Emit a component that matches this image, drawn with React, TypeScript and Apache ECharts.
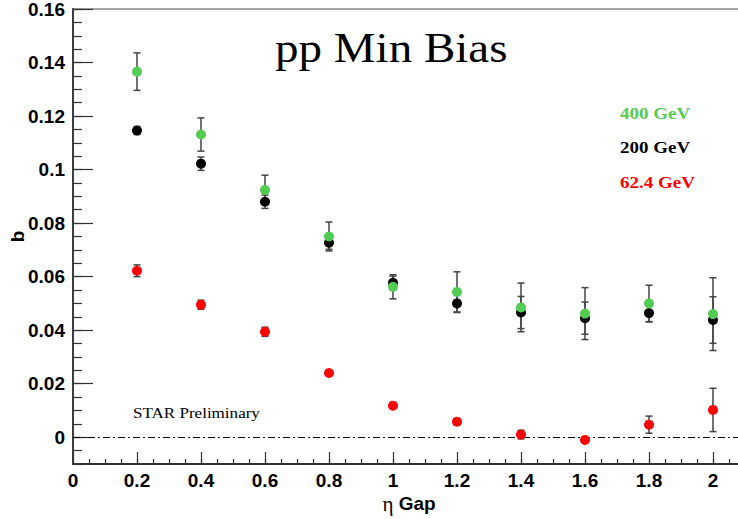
import React, { useEffect, useRef } from "react";
import * as echarts from "echarts";

// eta gap categories (x values)
const etaGap = [0.2, 0.4, 0.6, 0.8, 1.0, 1.2, 1.4, 1.6, 1.8, 2.0];

// 400 GeV (green)
const b400 = [0.1366, 0.1131, 0.0924, 0.075, 0.0562, 0.0543, 0.0485, 0.0462, 0.05, 0.046];
const err400 = [0.007, 0.0062, 0.0055, 0.0054, 0.0045, 0.0075, 0.0091, 0.0097, 0.0068, 0.0136];

// 200 GeV (black)
const b200 = [0.1146, 0.1022, 0.088, 0.0727, 0.0577, 0.05, 0.0466, 0.0445, 0.0464, 0.0438];
const err200 = [0.0015, 0.0025, 0.0025, 0.0025, 0.0025, 0.0034, 0.006, 0.006, 0.0033, 0.0087];

// 62.4 GeV (red)
const b62 = [0.0622, 0.0495, 0.0394, 0.024, 0.0118, 0.0058, 0.001, -0.001, 0.0047, 0.0102];
const err62 = [0.0022, 0.0017, 0.0017, 0.0006, 0.0006, 0.0012, 0.0016, 0.0006, 0.0032, 0.0081];

const legendLabels = ["400 GeV", "200 GeV", "62.4 GeV"];
const titleText = "pp Min Bias";
const watermark = "STAR Preliminary";

const GREEN = "#52cc52";
const RED = "#ff0000";
const BLACK = "#000000";
const ERRC = "#444444";

function pts(ys: number[], es: number[]) {
  return etaGap.map((x, i) => [x, ys[i], es[i]]);
}

function errSeries(ys: number[], es: number[]) {
  return {
    type: "custom",
    xAxisIndex: 0,
    yAxisIndex: 0,
    data: pts(ys, es),
    encode: { x: 0, y: 1 },
    silent: true,
    renderItem: (params: any, api: any) => {
      const x = api.value(0);
      const y = api.value(1);
      const e = api.value(2);
      const top = api.coord([x, y + e]);
      const bot = api.coord([x, y - e]);
      const hw = 3.5;
      const st = { stroke: ERRC, lineWidth: 1.5 };
      return {
        type: "group",
        children: [
          { type: "line", shape: { x1: top[0], y1: top[1], x2: bot[0], y2: bot[1] }, style: st },
          { type: "line", shape: { x1: top[0] - hw, y1: top[1], x2: top[0] + hw, y2: top[1] }, style: st },
          { type: "line", shape: { x1: bot[0] - hw, y1: bot[1], x2: bot[0] + hw, y2: bot[1] }, style: st },
        ],
      };
    },
  };
}

function dotSeries(ys: number[], color: string, extra: any = {}) {
  return {
    type: "scatter",
    xAxisIndex: 0,
    yAxisIndex: 0,
    data: etaGap.map((x, i) => [x, ys[i]]),
    symbol: "circle",
    symbolSize: 10,
    itemStyle: { color, opacity: 1 },
    silent: true,
    ...extra,
  };
}

const gridBox = { left: 73, top: 9, right: -7, bottom: 55, containLabel: false, outerBoundsMode: "none" };
const axisCol = "#333333";

export default function App() {
  const ref = useRef<HTMLDivElement>(null);
  useEffect(() => {
    if (!ref.current) return;
    const chart = echarts.init(ref.current, null, { renderer: "svg" });
    const labelFont = {
      fontFamily: "Liberation Sans",
      fontWeight: "bold" as const,
      fontSize: 19,
      color: "#000",
    };
    const option: any = {
      animation: false,
      backgroundColor: "#ffffff",
      grid: [
        { ...gridBox, show: true, borderColor: "#888888", borderWidth: 1.5, backgroundColor: "transparent" },
        { ...gridBox, show: false },
      ],
      xAxis: [
        {
          type: "value",
          gridIndex: 0,
          min: 0,
          max: 2.1,
          interval: 0.05,
          position: "bottom",
          axisLine: { show: true, onZero: false, lineStyle: { color: axisCol, width: 1.8 } },
          axisTick: { show: true, inside: true, length: 5, lineStyle: { color: axisCol, width: 1.2 } },
          axisLabel: { show: false },
          splitLine: { show: false },
        },
        {
          type: "value",
          gridIndex: 1,
          min: 0,
          max: 2.1,
          interval: 0.2,
          position: "bottom",
          axisLine: { show: false, onZero: false },
          axisTick: { show: true, inside: true, length: 12, lineStyle: { color: axisCol, width: 1.2 } },
          axisLabel: { show: true, margin: 7, showMaxLabel: false, ...labelFont },
          splitLine: { show: false },
          name: "{eta|η} Gap",
          nameLocation: "middle",
          nameGap: 29,
          nameMoveOverlap: false,
          nameTextStyle: {
            ...labelFont,
            rich: {
              eta: { fontFamily: "Liberation Serif", fontWeight: "normal", fontSize: 21, color: "#000" },
            },
          },
        },
      ],
      yAxis: [
        {
          type: "value",
          gridIndex: 0,
          min: -0.01,
          max: 0.16,
          interval: 0.005,
          position: "left",
          axisLine: { show: true, onZero: false, lineStyle: { color: axisCol, width: 1.8 } },
          axisTick: { show: true, inside: true, length: 9, lineStyle: { color: axisCol, width: 1.2 } },
          axisLabel: { show: false },
          splitLine: { show: false },
        },
        {
          type: "value",
          gridIndex: 1,
          min: -0.01,
          max: 0.16,
          splitNumber: 8,
          position: "left",
          axisLine: { show: false, onZero: false },
          axisTick: { show: true, inside: true, length: 20, lineStyle: { color: axisCol, width: 1.2 } },
          axisLabel: { show: true, margin: 8, showMinLabel: false, ...labelFont },
          splitLine: { show: false },
          name: "b",
          nameLocation: "middle",
          nameGap: 46,
          nameMoveOverlap: false,
          nameTextStyle: { ...labelFont },
        },
      ],
      series: [
        errSeries(b200, err200),
        dotSeries(b200, BLACK),
        errSeries(b400, err400),
        dotSeries(b400, GREEN),
        errSeries(b62, err62),
        dotSeries(b62, RED, {
          markLine: {
            silent: true,
            symbol: ["none", "none"],
            label: { show: false },
            lineStyle: { type: [7, 3, 2, 3], color: "#000", width: 1.2 },
            data: [{ yAxis: 0 }],
            z: 1,
          },
        }),
      ],
      graphic: [
        {
          type: "text",
          x: 275,
          y: 48,
          scaleX: 1.12,
          style: {
            text: titleText,
            font: "normal 42px 'Liberation Serif'",
            fill: "#000",
            align: "left",
            verticalAlign: "middle",
            textAlign: "left",
            textVerticalAlign: "middle",
          },
        },
        ...legendLabels.map((t, i) => ({
          type: "text",
          x: 620,
          y: [113.5, 147, 182.5][i],
          scaleX: 1.12,
          style: {
            text: t,
            font: "bold 17px 'Liberation Serif'",
            fill: [GREEN, BLACK, RED][i],
            align: "left",
            verticalAlign: "middle",
            textAlign: "left",
            textVerticalAlign: "middle",
          },
        })),
        {
          type: "text",
          x: 133,
          y: 413,
          scaleX: 1.1,
          style: {
            text: watermark,
            font: "normal 15.5px 'Liberation Serif'",
            fill: "#000",
            align: "left",
            verticalAlign: "middle",
            textAlign: "left",
            textVerticalAlign: "middle",
          },
        },
      ],
    };
    chart.setOption(option);
    return () => chart.dispose();
  }, []);
  return (
    <div
      ref={ref}
      style={{ position: "fixed", left: 0, top: 0, width: 738, height: 519, background: "#fff" }}
    />
  );
}
